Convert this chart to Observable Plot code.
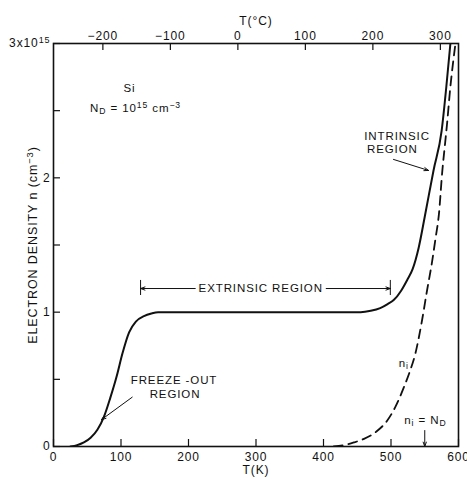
<!DOCTYPE html>
<html>
<head>
<meta charset="utf-8">
<script src="https://cdn.jsdelivr.net/npm/d3@7"></script>
<script src="https://cdn.jsdelivr.net/npm/@observablehq/plot@0.6"></script>
<style>
  html, body { margin: 0; padding: 0; background: #fff; }
  svg text { letter-spacing: 0.9px; }
</style>
</head>
<body>
<div id="chart"></div>
<script>
// Solid curve: electron density n (units of 1e15 cm^-3) vs T (K)
const solidT = [25, 35, 45, 55, 65, 75, 84, 94, 102, 112, 122, 134, 145, 155, 250, 350, 455, 470, 484, 495, 504, 515, 524, 532, 541, 550, 563, 575, 582, 588];
const solidN = [0, 0.01, 0.03, 0.065, 0.125, 0.225, 0.36, 0.53, 0.69, 0.85, 0.93, 0.97, 0.99, 1.0, 1.0, 1.0, 1.0, 1.01, 1.03, 1.06, 1.09, 1.16, 1.24, 1.32, 1.48, 1.71, 2.055, 2.35, 2.68, 3.0];
// Dashed curve: intrinsic carrier density n_i
const niT = [415, 430, 445, 460, 478, 494, 507, 519, 528, 536, 546, 553, 561, 566, 571, 576, 580, 583, 588, 592, 595.5];
const niN = [0, 0.01, 0.03, 0.057, 0.11, 0.19, 0.3, 0.44, 0.56, 0.69, 0.94, 1.15, 1.38, 1.55, 1.73, 2.05, 2.25, 2.4, 2.68, 2.86, 3.0];

const kTicks = [0, 100, 200, 300, 400, 500, 600];
const cTicks = [-200, -100, 0, 100, 200, 300];
const yMajor = [0, 1, 2, 3];
const yMinor = [0.5, 1.5, 2.5];

// Annotations (data coordinates, centred)
const labels = [
  {t: 112.6, n: 2.67, text: "Si"},
  {t: 121.5, n: 2.52, text: "N{_D} = 10{^15} cm{^-3}"},
  {t: 509, n: 2.31, text: "INTRINSIC"},
  {t: 502, n: 2.215, text: "REGION"},
  {t: 307, n: 1.176, text: "EXTRINSIC REGION"},
  {t: 178.5, n: 0.49, text: "FREEZE -OUT"},
  {t: 180, n: 0.387, text: "REGION"},
  {t: 519, n: 0.618, text: "n{_i}"},
  {t: 551, n: 0.194, text: "n{_i} = N{_D}"}
];
const arrows = [
  {t1: 503.7, n1: 2.137, t2: 555.6, n2: 2.055},
  {t1: 116.6, n1: 0.367, t2: 71.1, n2: 0.2},
  {t1: 210, n1: 1.176, t2: 129, n2: 1.176},
  {t1: 404, n1: 1.176, t2: 499, n2: 1.176},
  {t1: 550, n1: 0.119, t2: 550, n2: 0.0}
];
const bars = [129, 499];

const solid = solidT.map((t, i) => ({t, n: solidN[i]}));
const ni = niT.map((t, i) => ({t, n: niN[i]}));
const cTicksK = cTicks.map(c => c + 273.15);

// inward tick length: ~7px expressed in data units
const tx = 600 * 7 / 405, ty = 3 * 7 / 403;

const plot = Plot.plot({
  width: 467,
  height: 481,
  marginLeft: 53,
  marginRight: 9,
  marginTop: 43,
  marginBottom: 35,
  style: {fontFamily: "'Liberation Sans', Arial, sans-serif", fontSize: "12px", color: "#111", background: "#fff"},
  x: {domain: [0, 600]},
  y: {domain: [0, 3]},
  marks: [
    Plot.axisX(kTicks, {anchor: "bottom", tickSize: 0, tickPadding: 6, label: null}),
    Plot.axisX(cTicksK, {anchor: "top", tickSize: 0, tickPadding: 4, tickFormat: d => String(Math.round(d - 273.15)).replace("-", "\u2212"), label: null}),
    Plot.axisY(yMajor, {anchor: "left", tickSize: 0, tickPadding: 3, tickFormat: d => d === 3 ? "3x10{^15}" : String(d), label: null}),
    Plot.ruleX(kTicks, {x: d => d, y1: 0, y2: ty, stroke: "#111", strokeWidth: 1.2}),
    Plot.ruleX(cTicksK, {x: d => d, y1: 3, y2: 3 - ty, stroke: "#111", strokeWidth: 1.2}),
    Plot.ruleY(yMajor.concat(yMinor), {y: d => d, x1: 0, x2: tx, stroke: "#111", strokeWidth: 1.2}),
    Plot.text(["T(K)"], {frameAnchor: "bottom", dy: 27, fontSize: 12}),
    Plot.text(["T(°C)"], {frameAnchor: "top", dy: -27, fontSize: 12}),
    Plot.text(["ELECTRON DENSITY n (cm{^-3})"], {frameAnchor: "left", textAnchor: "middle", rotate: -90, dx: -21, fontSize: 12.5, style: "letter-spacing:1.6px"}),
    Plot.line(solid, {x: "t", y: "n", curve: "monotone-x", stroke: "#111", strokeWidth: 2, clip: true}),
    Plot.line(ni, {x: "t", y: "n", curve: "monotone-x", stroke: "#111", strokeWidth: 1.8, strokeDasharray: "9,6", clip: true}),
    Plot.text(labels, {x: "t", y: "n", text: "text", textAnchor: "middle", fontSize: 11.5, fill: "#111"}),
    Plot.arrow(arrows, {x1: "t1", y1: "n1", x2: "t2", y2: "n2", stroke: "#111", strokeWidth: 1, headLength: 7, headAngle: 40}),
    Plot.ruleX(bars, {x: d => d, y1: 1.124, y2: 1.236, stroke: "#111", strokeWidth: 1}),
    Plot.frame({stroke: "#111", strokeWidth: 1.6})
  ]
});

// Render {^...} / {_...} markers as super/subscripts
d3.select(plot).selectAll("text").each(function () {
  const el = this;
  const s = el.textContent;
  if (!s.includes("{")) return;
  const parts = s.split(/(\{[_^][^}]*\})/);
  while (el.firstChild) el.removeChild(el.firstChild);
  for (const p of parts) {
    if (!p) continue;
    const ts = document.createElementNS("http://www.w3.org/2000/svg", "tspan");
    const m = p.match(/^\{([_^])([^}]*)\}$/);
    if (m) {
      ts.textContent = m[2].replace("-", "\u2212");
      ts.setAttribute("font-size", "0.75em");
      ts.setAttribute("baseline-shift", m[1] === "^" ? "45%" : "-25%");
    } else {
      ts.textContent = p;
    }
    el.appendChild(ts);
  }
});

document.getElementById("chart").appendChild(plot);
</script>
</body>
</html>
